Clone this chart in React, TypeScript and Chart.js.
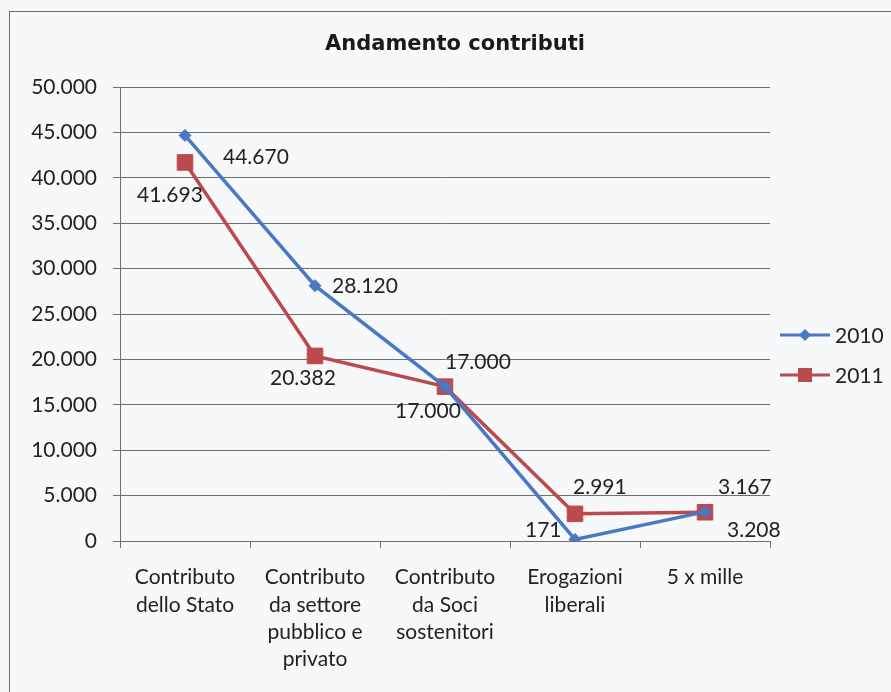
import React, { useEffect, useRef } from "react";
import { Chart, registerables } from "chart.js";

Chart.register(...registerables);

const chartTitle = "Andamento contributi";
const categories: string[][] = [
  ["Contributo", "dello Stato"],
  ["Contributo", "da settore", "pubblico e", "privato"],
  ["Contributo", "da Soci", "sostenitori"],
  ["Erogazioni", "liberali"],
  ["5 x mille"],
];
const seriesNames = ["2010", "2011"];
const values2010 = [44670, 28120, 17000, 171, 3208];
const values2011 = [41693, 20382, 17000, 2991, 3167];
const yTicks = [0, 5000, 10000, 15000, 20000, 25000, 30000, 35000, 40000, 45000, 50000];

// label placement (offsets from the point, in px) - style only
const labelOffsets2010 = [[38, 22], [17, 1], [0, -24], [-50, -9], [22, 18]];
const labelOffsets2011 = [[-48, 33], [-45, 22], [-50, 25], [-2, -27], [13, -25]];

const BLUE = "#4a78c2";
const RED = "#bb4a4c";
const FONT = "Lato, 'Open Sans', sans-serif";

const fmt = (v: number) => String(Math.round(v)).replace(/\B(?=(\d{3})+(?!\d))/g, ".");

const labelsPlugin = {
  id: "customLabels",
  afterDatasetsDraw(chart: any) {
    const ctx = chart.ctx;
    ctx.save();
    ctx.font = `21px ${FONT}`;
    ctx.fillStyle = "#222";
    ctx.textAlign = "left";
    ctx.textBaseline = "middle";
    const offs = [labelOffsets2010, labelOffsets2011];
    chart.data.datasets.forEach((ds: any, di: number) => {
      const meta = chart.getDatasetMeta(di);
      meta.data.forEach((pt: any, i: number) => {
        const [dx, dy] = offs[di][i];
        ctx.fillText(fmt(ds.data[i]), pt.x + dx, pt.y + dy);
      });
    });
    ctx.restore();
  },
  afterDraw(chart: any) {
    const ctx = chart.ctx;
    ctx.save();
    // title
    ctx.font = `bold 21px 'DejaVu Sans', Verdana, sans-serif`;
    ctx.fillStyle = "#1a1a1a";
    ctx.textAlign = "center";
    ctx.textBaseline = "middle";
    ctx.fillText(chartTitle, 445, 33);
    // legend
    const colors = [BLUE, RED];
    const ys = [323, 363];
    seriesNames.forEach((name, i) => {
      const y = ys[i];
      ctx.strokeStyle = colors[i];
      ctx.lineWidth = 3;
      ctx.beginPath();
      ctx.moveTo(770, y);
      ctx.lineTo(820, y);
      ctx.stroke();
      ctx.fillStyle = colors[i];
      ctx.beginPath();
      if (i === 0) {
        const r = 6;
        ctx.moveTo(795, y - r);
        ctx.lineTo(795 + r, y);
        ctx.lineTo(795, y + r);
        ctx.lineTo(795 - r, y);
        ctx.closePath();
      } else {
        ctx.rect(795 - 7, y - 7, 14, 14);
      }
      ctx.fill();
      ctx.fillStyle = "#222";
      ctx.font = `21px ${FONT}`;
      ctx.textAlign = "left";
      ctx.fillText(name, 825, y + 1);
    });
    ctx.restore();
  },
};

export default function App() {
  const ref = useRef<HTMLCanvasElement>(null);
  useEffect(() => {
    if (!ref.current) return;
    const chart = new Chart(ref.current, {
      type: "line",
      data: {
        labels: categories,
        datasets: [
          {
            label: seriesNames[0],
            data: values2010,
            borderColor: BLUE,
            backgroundColor: BLUE,
            borderWidth: 3.5,
            pointStyle: "rectRot",
            pointRadius: 6,
            pointBorderWidth: 1,
            tension: 0,
          },
          {
            label: seriesNames[1],
            data: values2011,
            borderColor: RED,
            backgroundColor: RED,
            borderWidth: 3.5,
            pointStyle: "rect",
            pointRadius: 11,
            pointBorderWidth: 1,
            tension: 0,
          },
        ],
      },
      options: {
        responsive: false,
        animation: false,
        layout: { padding: { top: 75, right: 121, left: 0, bottom: 0 } },
        plugins: {
          legend: { display: false },
          title: { display: false },
          tooltip: { enabled: false },
        },
        scales: {
          x: {
            offset: true,
            afterFit: (s: any) => { s.height = 151; },
            grid: {
              offset: true,
              drawOnChartArea: false,
              drawTicks: true,
              tickLength: 7,
              color: "#6f6f6f",
            },
            border: { color: "#6f6f6f", width: 1 },
            ticks: {
              font: { family: FONT, size: 21, lineHeight: 1.3 },
              color: "#222",
              padding: 16,
              maxRotation: 0,
              autoSkip: false,
            },
          },
          y: {
            min: 0,
            max: 50000,
            afterFit: (s: any) => { s.width = 110; },
            afterBuildTicks: (s: any) => { s.ticks = yTicks.map((v) => ({ value: v })); },
            grid: { color: "#6f6f6f", tickLength: 7, lineWidth: 1 },
            border: { color: "#6f6f6f", width: 1 },
            ticks: {
              font: { family: FONT, size: 21 },
              color: "#222",
              padding: 16,
              callback: (v: any) => fmt(Number(v)),
            },
          },
        },
      },
      plugins: [labelsPlugin],
    });
    return () => chart.destroy();
  }, []);

  return (
    <div style={{ position: "fixed", left: 0, top: 0, width: 891, height: 692, background: "#f6f8fa" }}>
      <div
        style={{
          position: "fixed",
          left: 9,
          top: 11,
          width: 882,
          height: 681,
          borderLeft: "1px solid #6a6a6a",
          borderTop: "1px solid #6a6a6a",
          boxSizing: "border-box",
        }}
      >
        <canvas ref={ref} width={881} height={680} style={{ display: "block" }} />
      </div>
    </div>
  );
}
